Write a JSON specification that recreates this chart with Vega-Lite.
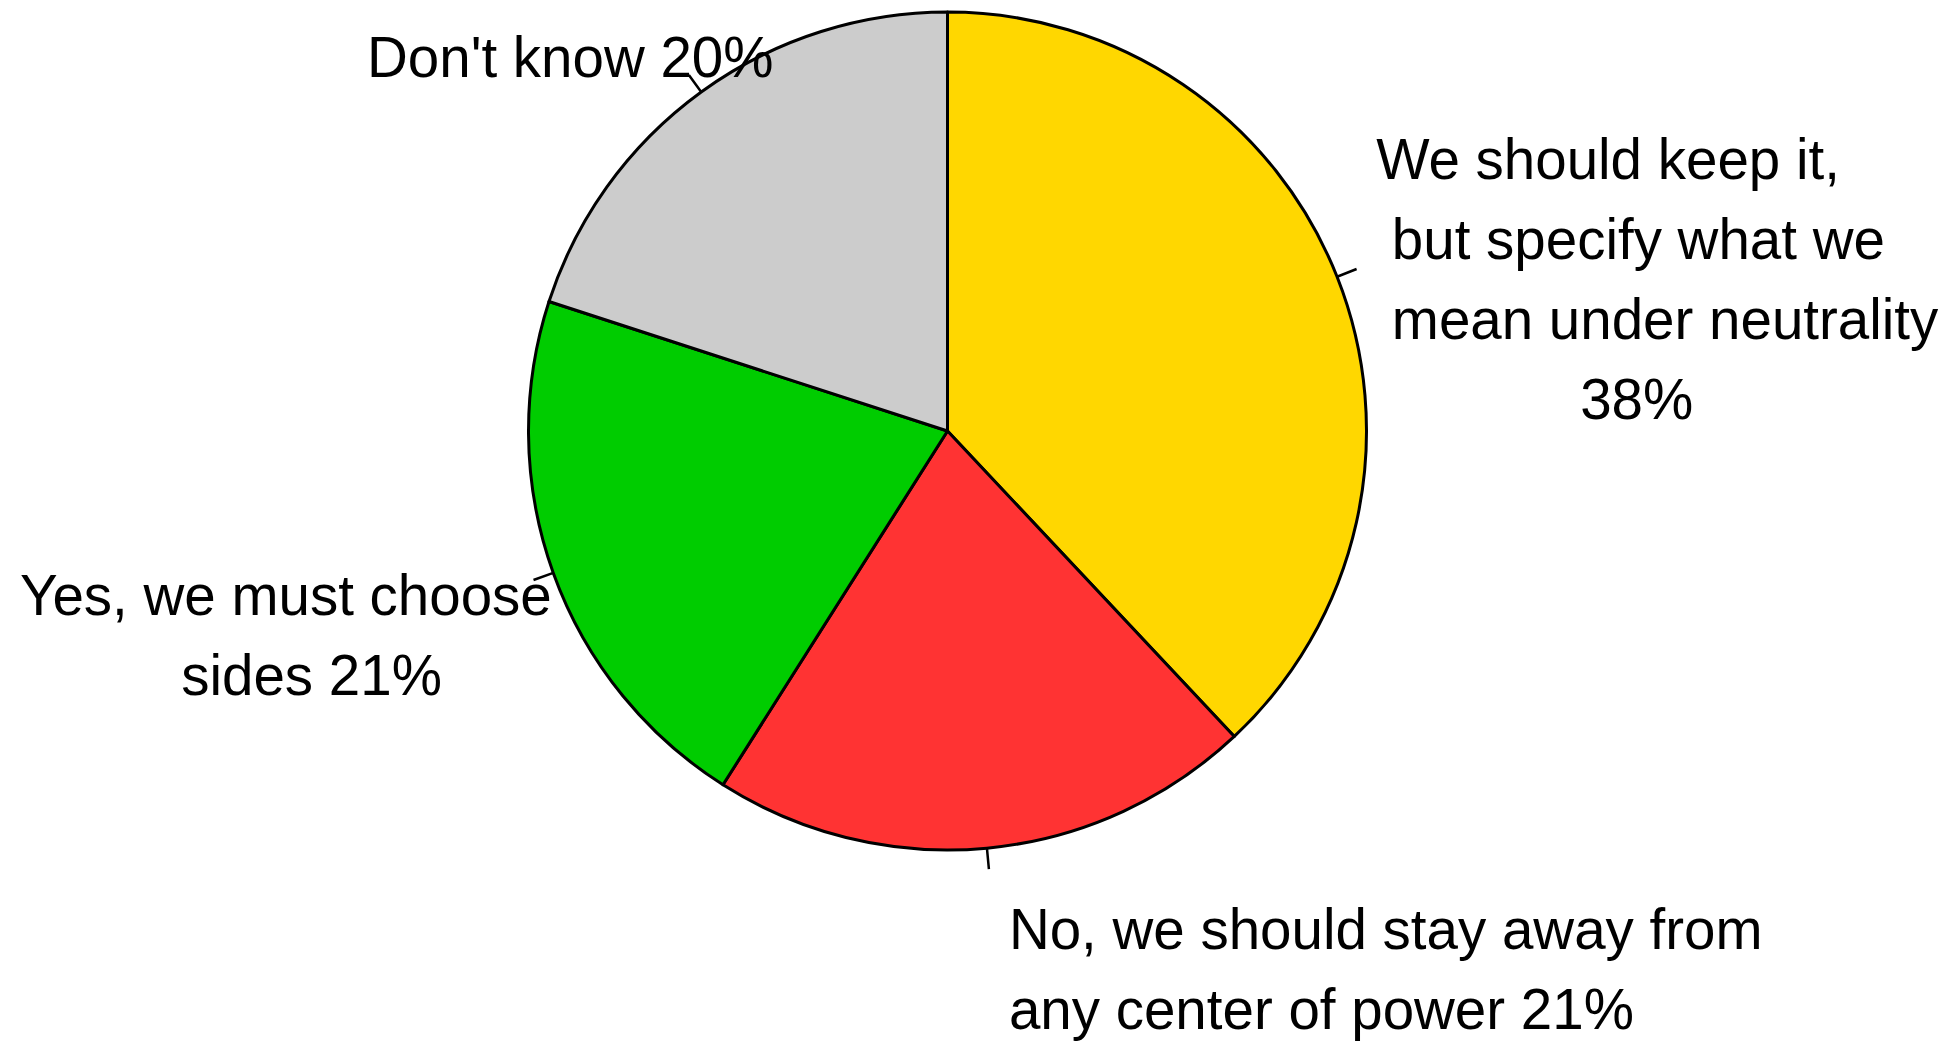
{
  "$schema": "https://vega.github.io/schema/vega-lite/v6.json",
  "autosize": {"type": "none"},
  "width": 1895,
  "height": 862,
  "padding": {"left": 0, "top": 0, "right": 54, "bottom": 179},
  "background": "white",
  "config": {"view": {"stroke": null}},
  "data": {
    "values": [
      {"cat": "keep", "ord": 1, "value": 38, "label": "We should keep it,\n\u200b\u00a0but specify what we\n\u200b\u00a0mean under neutrality\n\u200b\u00a0\u00a0\u00a0\u00a0\u00a0\u00a0\u00a0\u00a0\u00a0\u00a0\u00a0\u00a0\u00a038%"},
      {"cat": "no", "ord": 2, "value": 21, "label": "No, we should stay away from\nany center of power 21%"},
      {"cat": "yes", "ord": 3, "value": 21, "label": "Yes, we must choose\nsides 21%\u00a0\u00a0\u00a0\u00a0\u00a0\u00a0\u00a0\u200b"},
      {"cat": "dk", "ord": 4, "value": 20, "label": "Don't know 20%"}
    ]
  },
  "encoding": {
    "theta": {"field": "value", "type": "quantitative", "stack": true},
    "order": {"field": "ord", "type": "quantitative"}
  },
  "layer": [
    {
      "mark": {"type": "arc", "outerRadius": 419, "stroke": "black", "strokeWidth": 3, "strokeJoin": "round"},
      "encoding": {
        "color": {
          "field": "cat",
          "type": "nominal",
          "scale": {"domain": ["keep", "no", "yes", "dk"], "range": ["#FFD700", "#FF3333", "#00CC00", "#CCCCCC"]},
          "legend": null
        }
      }
    },
    {
      "mark": {"type": "arc", "outerRadius": 440, "innerRadius": 419, "padAngle": 3, "fill": "transparent", "stroke": "black", "strokeWidth": 2.5},
      "encoding": {"detail": {"field": "cat"}}
    },
    {
      "mark": {"type": "text", "radius": 461, "align": "left", "baseline": "middle", "dx": 0, "dy": -99, "font": "Liberation Sans", "fontSize": 56.5, "lineHeight": 80, "lineBreak": "\n", "fill": "black"},
      "encoding": {
        "detail": {"field": "cat"},
        "text": {"condition": {"test": "datum.cat === 'keep'", "field": "label"}, "value": ""}
      }
    },
    {
      "mark": {"type": "text", "radius": 461, "align": "left", "baseline": "middle", "dx": 18, "dy": 42, "font": "Liberation Sans", "fontSize": 56.5, "lineHeight": 80, "lineBreak": "\n", "fill": "black"},
      "encoding": {
        "detail": {"field": "cat"},
        "text": {"condition": {"test": "datum.cat === 'no'", "field": "label"}, "value": ""}
      }
    },
    {
      "mark": {"type": "text", "radius": 461, "align": "right", "baseline": "middle", "dx": 38, "dy": 11, "font": "Liberation Sans", "fontSize": 56.5, "lineHeight": 80, "lineBreak": "\n", "fill": "black"},
      "encoding": {
        "detail": {"field": "cat"},
        "text": {"condition": {"test": "datum.cat === 'yes'", "field": "label"}, "value": ""}
      }
    },
    {
      "mark": {"type": "text", "radius": 461, "align": "right", "baseline": "middle", "dx": 97, "dy": 2, "font": "Liberation Sans", "fontSize": 56.5, "lineHeight": 80, "lineBreak": "\n", "fill": "black"},
      "encoding": {
        "detail": {"field": "cat"},
        "text": {"condition": {"test": "datum.cat === 'dk'", "field": "label"}, "value": ""}
      }
    }
  ]
}
